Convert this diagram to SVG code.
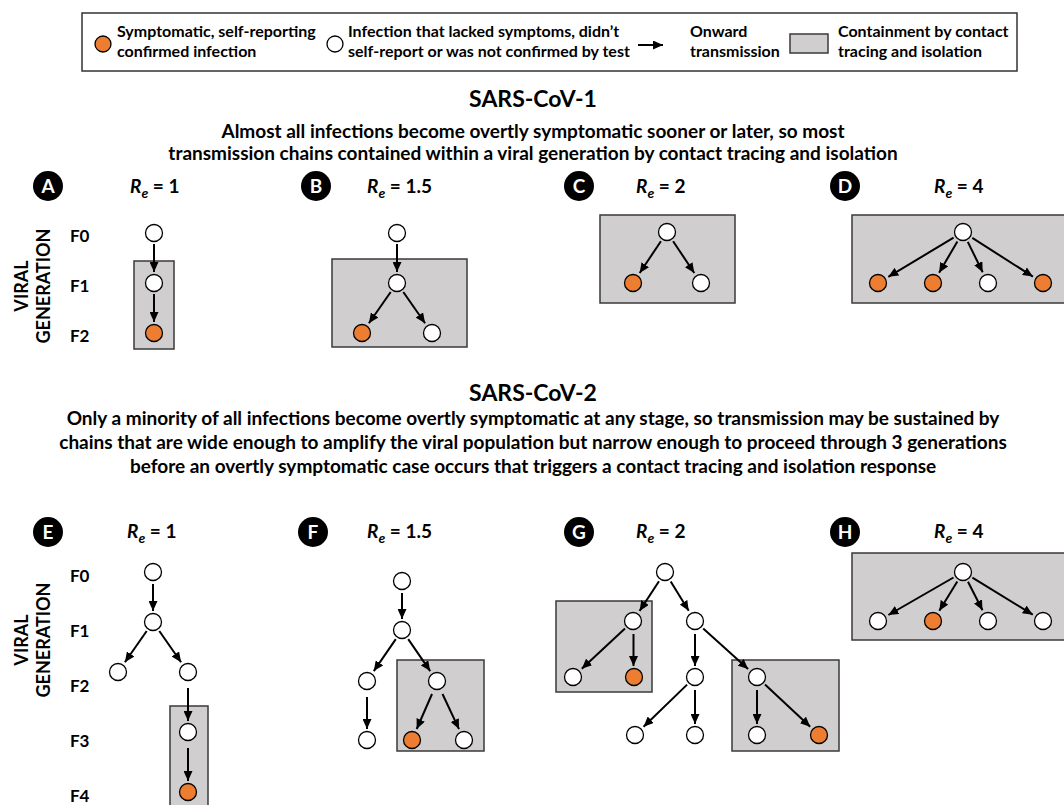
<svg xmlns="http://www.w3.org/2000/svg" width="1064" height="805" viewBox="0 0 1064 805">
<defs>
<marker id="ah" markerUnits="userSpaceOnUse" markerWidth="10" markerHeight="9" refX="10" refY="4.5" orient="auto">
<path d="M0,0 L10,4.5 L0,9 z" fill="#000"/>
</marker>
<style>
text{font-family:Lato,"Open Sans","Liberation Sans",sans-serif;font-weight:bold;fill:#000}
.lg{font-size:16px}
.ttl{font-size:23px;text-anchor:middle}
.sub{font-size:19px;text-anchor:middle}
.gen{font-size:17px}
.vg{font-size:18px;text-anchor:middle}
.re{font-size:19px}
.re .i{font-style:italic}
.badge circle{fill:#000}
.badge text{fill:#fff;font-size:19px;text-anchor:middle}
.box{fill:#D0CECE;stroke:#3a3a3a;stroke-width:1.5}
.n{fill:#fff;stroke:#000;stroke-width:1.3}
.o{fill:#ED7D31;stroke:#000;stroke-width:1.3}
.e line{stroke:#000;stroke-width:2;marker-end:url(#ah)}
</style>
</defs>
<rect width="1064" height="805" fill="#fff"/>

<g id="legend">
<rect x="82" y="13" width="935" height="58" fill="#fff" stroke="#333" stroke-width="1.5"/>
<circle cx="103" cy="44" r="8" class="o"/>
<text class="lg" x="117" y="37">Symptomatic, self-reporting</text>
<text class="lg" x="117" y="57">confirmed infection</text>
<circle cx="335" cy="44" r="8" class="n"/>
<text class="lg" x="348" y="37">Infection that lacked symptoms, didn’t</text>
<text class="lg" x="348" y="57">self-report or was not confirmed by test</text>
<line x1="638" y1="45" x2="663" y2="45" stroke="#000" stroke-width="2" marker-end="url(#ah)"/>
<text class="lg" x="690" y="37">Onward</text>
<text class="lg" x="690" y="57">transmission</text>
<rect x="790" y="34" width="38" height="19" class="box"/>
<text class="lg" x="838" y="37">Containment by contact</text>
<text class="lg" x="838" y="57">tracing and isolation</text>
</g>

<g id="title1">
<text class="ttl" x="533" y="107">SARS-CoV-1</text>
<text class="sub" x="533" y="138">Almost all infections become overtly symptomatic sooner or later, so most</text>
<text class="sub" x="533" y="160">transmission chains contained within a viral generation by contact tracing and isolation</text>
</g>

<g id="title2">
<text class="ttl" x="533" y="401">SARS-CoV-2</text>
<text class="sub" x="533" y="425">Only a minority of all infections become overtly symptomatic at any stage, so transmission may be sustained by</text>
<text class="sub" x="533" y="449">chains that are wide enough to amplify the viral population but narrow enough to proceed through 3 generations</text>
<text class="sub" x="533" y="473">before an overtly symptomatic case occurs that triggers a contact tracing and isolation response</text>
</g>

<g id="axis-top">
<text class="vg" transform="translate(28,286) rotate(-90)">VIRAL</text>
<text class="vg" transform="translate(50,286) rotate(-90)">GENERATION</text>
<text class="gen" x="70" y="242">F0</text>
<text class="gen" x="70" y="292">F1</text>
<text class="gen" x="70" y="342">F2</text>
</g>

<g id="axis-bottom">
<text class="vg" transform="translate(28,640) rotate(-90)">VIRAL</text>
<text class="vg" transform="translate(50,640) rotate(-90)">GENERATION</text>
<text class="gen" x="70" y="582">F0</text>
<text class="gen" x="70" y="637">F1</text>
<text class="gen" x="70" y="692">F2</text>
<text class="gen" x="70" y="747">F3</text>
<text class="gen" x="70" y="802">F4</text>
</g>

<g id="hdrA"><g class="badge"><circle cx="48" cy="186" r="15"/><text x="48" y="193">A</text></g>
<text class="re" x="130" y="193"><tspan class="i">R</tspan><tspan class="i" font-size="14" dy="5">e</tspan><tspan dy="-5"> = 1</tspan></text></g>
<g id="hdrB"><g class="badge"><circle cx="316" cy="186" r="15"/><text x="316" y="193">B</text></g>
<text class="re" x="367" y="193"><tspan class="i">R</tspan><tspan class="i" font-size="14" dy="5">e</tspan><tspan dy="-5"> = 1.5</tspan></text></g>
<g id="hdrC"><g class="badge"><circle cx="579" cy="186" r="15"/><text x="579" y="193">C</text></g>
<text class="re" x="636" y="193"><tspan class="i">R</tspan><tspan class="i" font-size="14" dy="5">e</tspan><tspan dy="-5"> = 2</tspan></text></g>
<g id="hdrD"><g class="badge"><circle cx="845" cy="186" r="15"/><text x="845" y="193">D</text></g>
<text class="re" x="934" y="193"><tspan class="i">R</tspan><tspan class="i" font-size="14" dy="5">e</tspan><tspan dy="-5"> = 4</tspan></text></g>
<g id="hdrE"><g class="badge"><circle cx="48" cy="532" r="15"/><text x="48" y="539">E</text></g>
<text class="re" x="127" y="538"><tspan class="i">R</tspan><tspan class="i" font-size="14" dy="5">e</tspan><tspan dy="-5"> = 1</tspan></text></g>
<g id="hdrF"><g class="badge"><circle cx="313" cy="532" r="15"/><text x="313" y="539">F</text></g>
<text class="re" x="367" y="538"><tspan class="i">R</tspan><tspan class="i" font-size="14" dy="5">e</tspan><tspan dy="-5"> = 1.5</tspan></text></g>
<g id="hdrG"><g class="badge"><circle cx="579" cy="532" r="15"/><text x="579" y="539">G</text></g>
<text class="re" x="636" y="538"><tspan class="i">R</tspan><tspan class="i" font-size="14" dy="5">e</tspan><tspan dy="-5"> = 2</tspan></text></g>
<g id="hdrH"><g class="badge"><circle cx="845" cy="532" r="15"/><text x="845" y="539">H</text></g>
<text class="re" x="934" y="538"><tspan class="i">R</tspan><tspan class="i" font-size="14" dy="5">e</tspan><tspan dy="-5"> = 4</tspan></text></g>

<g id="boxes">
<rect class="box" x="134" y="261" width="40" height="88"/>
<rect class="box" x="332" y="259" width="135" height="88"/>
<rect class="box" x="600" y="215" width="135" height="88"/>
<rect class="box" x="852" y="215" width="214" height="88"/>
<rect class="box" x="170" y="706" width="38" height="110"/>
<rect class="box" x="397" y="660" width="87" height="91"/>
<rect class="box" x="556" y="601" width="96" height="91"/>
<rect class="box" x="732" y="660" width="107" height="91"/>
<rect class="box" x="852" y="553" width="214" height="87"/>
</g>

<g id="connectors" class="e">
<line x1="154" y1="244" x2="154" y2="272"/>
<line x1="154" y1="294" x2="154" y2="322"/>
<line x1="397" y1="244" x2="397" y2="272"/>
<line x1="390.7" y1="292" x2="368.9" y2="323.2"/>
<line x1="403.3" y1="292" x2="425.1" y2="323.2"/>
<line x1="660.9" y1="241.2" x2="639.7" y2="273"/>
<line x1="673.1" y1="241.2" x2="694.3" y2="273"/>
<line x1="953.6" y1="237.7" x2="888.3" y2="276.8"/>
<line x1="957.4" y1="241.5" x2="939.1" y2="272.7"/>
<line x1="967.8" y1="241.9" x2="982.7" y2="272.2"/>
<line x1="972.3" y1="237.9" x2="1032.9" y2="276.6"/>
<line x1="153" y1="584" x2="153" y2="611"/>
<line x1="146.7" y1="631" x2="124.9" y2="662.2"/>
<line x1="159.3" y1="631" x2="181.1" y2="662.2"/>
<line x1="188" y1="688" x2="188" y2="721"/>
<line x1="188" y1="748" x2="188" y2="781"/>
<line x1="402" y1="593" x2="402" y2="619"/>
<line x1="395.8" y1="639.1" x2="373.8" y2="671.1"/>
<line x1="408.2" y1="639.1" x2="430.2" y2="671.1"/>
<line x1="367" y1="697" x2="367" y2="729"/>
<line x1="432" y1="694" x2="416.7" y2="729"/>
<line x1="442.5" y1="694" x2="459" y2="729.1"/>
<line x1="659" y1="581.2" x2="639.6" y2="610.9"/>
<line x1="670.7" y1="581.4" x2="688.7" y2="610.8"/>
<line x1="625" y1="628.5" x2="581.8" y2="668.8"/>
<line x1="633.5" y1="634" x2="633.5" y2="666"/>
<line x1="695" y1="634" x2="695" y2="666"/>
<line x1="703.2" y1="628.4" x2="748.1" y2="669"/>
<line x1="687.1" y1="684.6" x2="643.6" y2="726.7"/>
<line x1="695" y1="690" x2="695" y2="724"/>
<line x1="757" y1="690" x2="757" y2="724"/>
<line x1="765" y1="684.5" x2="810.2" y2="726.8"/>
<line x1="953.5" y1="577.5" x2="888.4" y2="615"/>
<line x1="957.3" y1="581.4" x2="939.3" y2="610.8"/>
<line x1="968" y1="581.8" x2="982.5" y2="610.3"/>
<line x1="972.4" y1="577.7" x2="1032.8" y2="614.7"/>
</g>

<g id="panelA">
<circle id="A0" class="n" cx="154" cy="233" r="8.5"/>
<circle id="A1" class="n" cx="154" cy="283" r="8.5"/>
<circle id="A2" class="o" cx="154" cy="333" r="8.5"/>
</g>
<g id="panelB">
<circle id="B0" class="n" cx="397" cy="233" r="8.5"/>
<circle id="B1" class="n" cx="397" cy="283" r="8.5"/>
<circle id="B2a" class="o" cx="362" cy="333" r="8.5"/>
<circle id="B2b" class="n" cx="432" cy="333" r="8.5"/>
</g>
<g id="panelC">
<circle id="C0" class="n" cx="667" cy="232" r="8.5"/>
<circle id="C1a" class="o" cx="633" cy="283" r="8.5"/>
<circle id="C1b" class="n" cx="701" cy="283" r="8.5"/>
</g>
<g id="panelD">
<circle id="D0" class="n" cx="963" cy="232" r="8.5"/>
<circle id="D1a" class="o" cx="878" cy="283" r="8.5"/>
<circle id="D1b" class="o" cx="933" cy="283" r="8.5"/>
<circle id="D1c" class="n" cx="988" cy="283" r="8.5"/>
<circle id="D1d" class="o" cx="1043" cy="283" r="8.5"/>
</g>
<g id="panelE">
<circle id="E0" class="n" cx="153" cy="572" r="8.5"/>
<circle id="E1" class="n" cx="153" cy="622" r="8.5"/>
<circle id="E2a" class="n" cx="118" cy="672" r="8.5"/>
<circle id="E2b" class="n" cx="188" cy="672" r="8.5"/>
<circle id="E3" class="n" cx="188" cy="732" r="8.5"/>
<circle id="E4" class="o" cx="188" cy="792" r="8.5"/>
</g>
<g id="panelF">
<circle id="F0" class="n" cx="402" cy="581" r="8.5"/>
<circle id="F1" class="n" cx="402" cy="630" r="8.5"/>
<circle id="F2a" class="n" cx="367" cy="681" r="8.5"/>
<circle id="F2b" class="n" cx="437" cy="681" r="8.5"/>
<circle id="F3a" class="n" cx="367" cy="740" r="8.5"/>
<circle id="F3b" class="o" cx="412" cy="740" r="8.5"/>
<circle id="F3c" class="n" cx="464" cy="740" r="8.5"/>
</g>
<g id="panelG">
<circle id="G0" class="n" cx="665" cy="572" r="8.5"/>
<circle id="G1a" class="n" cx="633" cy="621" r="8.5"/>
<circle id="G1b" class="n" cx="695" cy="621" r="8.5"/>
<circle id="G2a" class="n" cx="573" cy="677" r="8.5"/>
<circle id="G2b" class="o" cx="634" cy="677" r="8.5"/>
<circle id="G2c" class="n" cx="695" cy="677" r="8.5"/>
<circle id="G2d" class="n" cx="757" cy="677" r="8.5"/>
<circle id="G3a" class="n" cx="635" cy="735" r="8.5"/>
<circle id="G3b" class="n" cx="695" cy="735" r="8.5"/>
<circle id="G3c" class="n" cx="757" cy="735" r="8.5"/>
<circle id="G3d" class="o" cx="819" cy="735" r="8.5"/>
</g>
<g id="panelH">
<circle id="H0" class="n" cx="963" cy="572" r="8.5"/>
<circle id="H1a" class="n" cx="878" cy="621" r="8.5"/>
<circle id="H1b" class="o" cx="933" cy="621" r="8.5"/>
<circle id="H1c" class="n" cx="988" cy="621" r="8.5"/>
<circle id="H1d" class="n" cx="1043" cy="621" r="8.5"/>
</g>
</svg>
